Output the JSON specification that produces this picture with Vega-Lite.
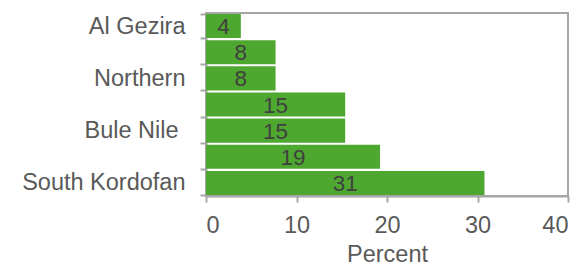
{
  "$schema": "https://vega.github.io/schema/vega-lite/v6.json",
  "autosize": "none",
  "width": 362,
  "height": 183,
  "padding": {"left": 206, "top": 13, "right": 14, "bottom": 70},
  "background": "white",
  "config": {
    "font": "Liberation Sans",
    "view": {"stroke": "#a6a6a6", "strokeWidth": 2},
    "axis": {"domainColor": "#a6a6a6", "domainWidth": 2, "tickColor": "#a6a6a6", "tickWidth": 2, "tickSize": 6, "labelColor": "#595959", "labelFontSize": 23.5, "titleColor": "#595959", "titleFontSize": 23.5, "titleFontWeight": "normal", "grid": false}
  },
  "data": {
    "values": [
      {"state": "Al Gezira", "percent": 3.85, "label": "4"},
      {"state": "Khartoum", "percent": 7.69, "label": "8"},
      {"state": "Northern", "percent": 7.69, "label": "8"},
      {"state": "Kassala", "percent": 15.38, "label": "15"},
      {"state": "Bule Nile ", "percent": 15.38, "label": "15"},
      {"state": "White Nile", "percent": 19.23, "label": "19"},
      {"state": "South Kordofan", "percent": 30.77, "label": "31"}
    ]
  },
  "encoding": {
    "y": {
      "field": "state", "type": "nominal", "sort": null,
      "scale": {"paddingInner": 0.08, "paddingOuter": 0.04},
      "axis": {
        "title": null, "tickBand": "extent", "labelLimit": 300,
        "labelPadding": {"condition": {"test": "datum.value == 'Bule Nile '", "value": 22}, "value": 15},
        "labelExpr": "indexof(['Al Gezira','Northern','Bule Nile ','South Kordofan'], datum.value) >= 0 ? datum.value : ''"
      }
    }
  },
  "layer": [
    {
      "mark": {"type": "bar", "color": "#4ea72e"},
      "encoding": {
        "x": {
          "field": "percent", "type": "quantitative",
          "scale": {"domain": [0, 40], "nice": false},
          "axis": {"title": "Percent", "values": [0, 10, 20, 30, 40], "labelPadding": 11, "titlePadding": 6}
        }
      }
    },
    {
      "transform": [{"calculate": "datum.percent / 2", "as": "mid"}],
      "mark": {"type": "text", "color": "#404040", "fontSize": 22.5, "baseline": "middle", "align": "center", "dy": 1},
      "encoding": {
        "x": {"field": "mid", "type": "quantitative"},
        "text": {"field": "label"}
      }
    }
  ]
}
